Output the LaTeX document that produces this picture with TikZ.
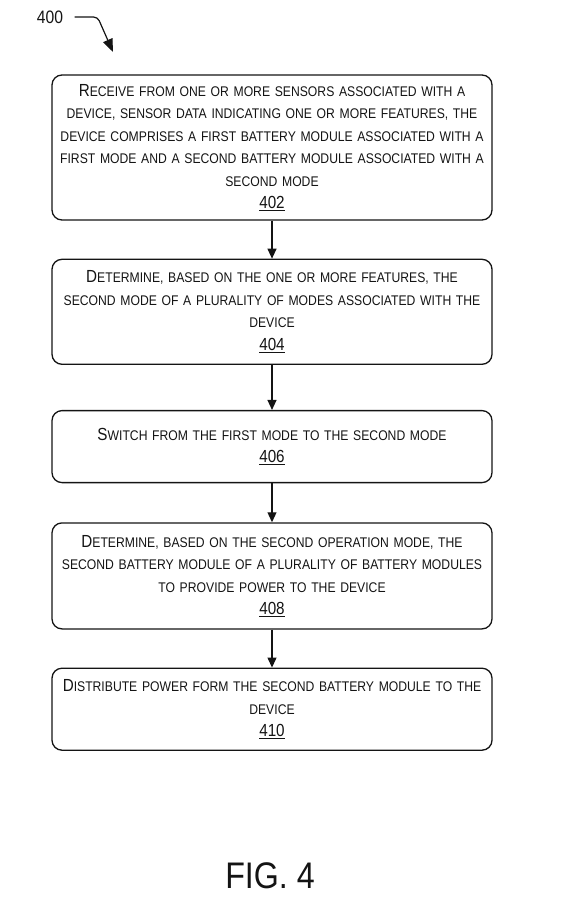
\documentclass[tikz,border=0pt]{standalone}
\usepackage{fontspec}
\setmainfont[FakeStretch=0.87]{Liberation Sans}
\usetikzlibrary{arrows.meta, positioning}
\definecolor{tDark}{RGB}{20, 20, 20}
\newcommand{\initcap}[1]{{\fontsize{17.5}{22.5}\selectfont #1}}
\newcommand{\stepnum}[1]{{\fontsize{17.5}{22.5}\selectfont\underline{#1}}}

\begin{document}
\begin{tikzpicture}[
    x=1pt, y=-1pt,
    font=\fontsize{14}{22.5}\selectfont,
    block/.style={
        draw=tDark,
        line width=1.3pt,
        rounded corners=10pt,
        align=center,
        text width=440pt,
        inner xsep=0pt,
        inner ysep=0pt,
        text=tDark,
        minimum height=#1
    },
    arrow/.style={-{Triangle[length=10pt,width=9pt]}, line width=1.2pt, color=tDark}
]
\useasboundingbox (0,0) rectangle (565,913);

\node[font=\fontsize{18}{20}\selectfont, text=tDark] (lbl) at (50,17) {400};
\coordinate (tip) at (113,52);

\node[block=145pt] (s402) at (272,147.5) {
    \initcap{R}ECEIVE FROM ONE OR MORE SENSORS ASSOCIATED WITH A\\
    DEVICE, SENSOR DATA INDICATING ONE OR MORE FEATURES, THE\\
    DEVICE COMPRISES A FIRST BATTERY MODULE ASSOCIATED WITH A\\
    FIRST MODE AND A SECOND BATTERY MODULE ASSOCIATED WITH A\\
    SECOND MODE\\
    \stepnum{402}
};

\node[block=105pt, below=38pt of s402] (s404) {
    \initcap{D}ETERMINE, BASED ON THE ONE OR MORE FEATURES, THE\\
    SECOND MODE OF A PLURALITY OF MODES ASSOCIATED WITH THE\\
    DEVICE\\
    \stepnum{404}
};

\node[block=72pt, below=45pt of s404] (s406) {
    \initcap{S}WITCH FROM THE FIRST MODE TO THE SECOND MODE\\
    \stepnum{406}
};

\node[block=106pt, below=39pt of s406] (s408) {
    \initcap{D}ETERMINE, BASED ON THE SECOND OPERATION MODE, THE\\
    SECOND BATTERY MODULE OF A PLURALITY OF BATTERY MODULES\\
    TO PROVIDE POWER TO THE DEVICE\\
    \stepnum{408}
};

\node[block=82pt, below=38pt of s408] (s410) {
    \initcap{D}ISTRIBUTE POWER FORM THE SECOND BATTERY MODULE TO THE\\
    DEVICE\\
    \stepnum{410}
};

\node[font=\fontsize{37}{40}\selectfont, text=tDark] (fig) at (270,876) {FIG. 4};

\draw[arrow, -{Triangle[length=13pt,width=10pt]}, rounded corners=4pt] ([xshift=8pt]lbl.east) -- ++(23,0) -- (tip);
\draw[arrow] (s402) -- (s404);
\draw[arrow] (s404) -- (s406);
\draw[arrow] (s406) -- (s408);
\draw[arrow] (s408) -- (s410);

\end{tikzpicture}
\end{document}
